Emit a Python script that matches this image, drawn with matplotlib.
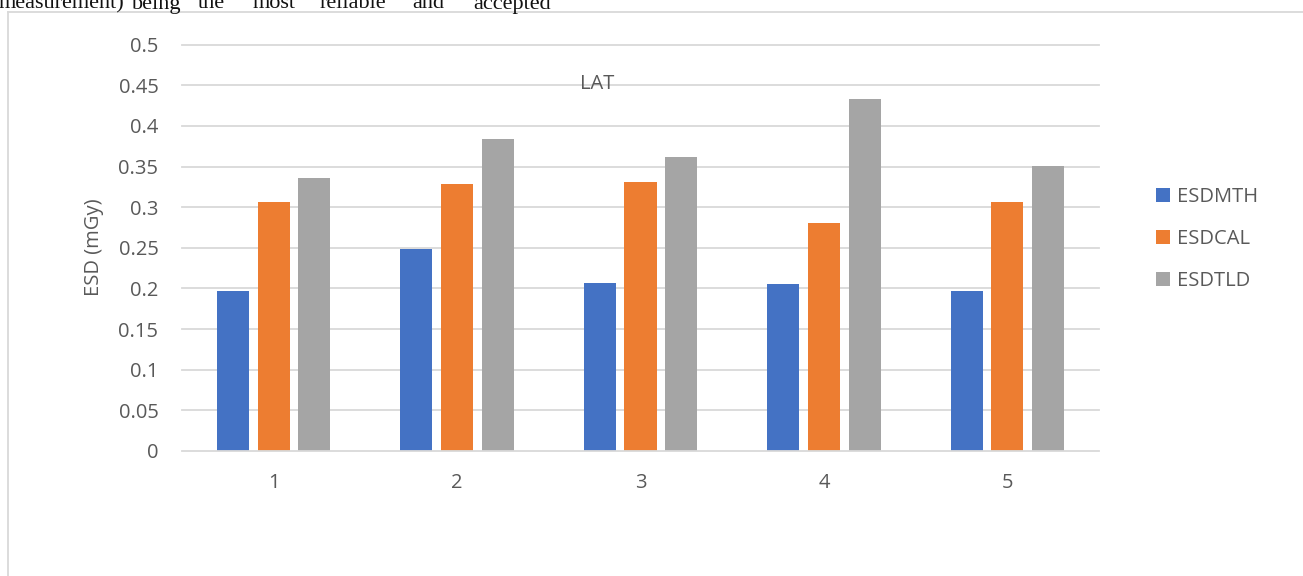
import matplotlib
matplotlib.use("Agg")
import matplotlib.pyplot as plt
from matplotlib.lines import Line2D
import numpy as np

# Data
categories = ["1", "2", "3", "4", "5"]
esd_mth = [0.197, 0.249, 0.207, 0.205, 0.197]
esd_cal = [0.306, 0.329, 0.331, 0.281, 0.306]
esd_tld = [0.336, 0.384, 0.362, 0.433, 0.351]
series_names = ["ESDMTH", "ESDCAL", "ESDTLD"]
y_ticks = [0, 0.05, 0.1, 0.15, 0.2, 0.25, 0.3, 0.35, 0.4, 0.45, 0.5]
y_tick_labels = ["0", "0.05", "0.1", "0.15", "0.2", "0.25", "0.3", "0.35", "0.4", "0.45", "0.5"]
body_words = ["measurement)", "being", "the", "most", "reliable", "and", "accepted"]
body_word_x = [-1, 132, 198, 253, 320, 412, 473]

colors = ["#4472C4", "#ED7D31", "#A5A5A5"]
text_color = "#595959"
grid_color = "#D9D9D9"
fs = 14.5

W, H = 1303, 576
fig = plt.figure(figsize=(W / 100, H / 100), dpi=100)
plt.rcParams["font.family"] = ["Open Sans", "DejaVu Sans"]

# Line of running document text above the chart frame
for word, xp in zip(body_words, body_word_x):
    fig.text(xp / W, 1 - 8.5 / H, word, ha="left", va="baseline",
             fontsize=16, family=["Liberation Serif", "DejaVu Serif"], color="#111111")

# Chart frame (top and left edges)
fig.add_artist(Line2D([8 / W, 1.0], [1 - 11.5 / H, 1 - 11.5 / H], color=grid_color, lw=1.3))
fig.add_artist(Line2D([8 / W, 8 / W], [0, 1 - 11.5 / H], color=grid_color, lw=1.3))

left, right = 182 / W, 1099 / W
bottom, top = 1 - 451 / H, 1 - 44.7 / H
ax = fig.add_axes([left, bottom, right - left, top - bottom])

x = np.arange(1, len(categories) + 1)
width = 0.1745
step = 0.222
for i, (vals, name) in enumerate(zip([esd_mth, esd_cal, esd_tld], series_names)):
    ax.bar(x + (i - 1) * step, vals, width=width, color=colors[i], label=name, zorder=3)

ax.set_xlim(0.5, len(categories) + 0.5)
ax.set_ylim(0, 0.5)
ax.set_yticks(y_ticks)
ax.set_yticklabels(y_tick_labels)
ax.set_xticks(x)
ax.set_xticklabels(categories)
ax.tick_params(axis="both", length=0, labelsize=fs, labelcolor=text_color)
ax.tick_params(axis="y", pad=17)
ax.tick_params(axis="x", pad=16)

for s in ["top", "right", "left"]:
    ax.spines[s].set_visible(False)
ax.spines["bottom"].set_color(grid_color)
ax.spines["bottom"].set_linewidth(1.3)
ax.spines["bottom"].set_zorder(4)

for yv in y_ticks[1:]:
    ax.axhline(yv, color=grid_color, lw=1.3, zorder=1, clip_on=False)

ax.set_ylabel("ESD (mGy)", fontsize=fs, color=text_color, va="center")
ax.yaxis.set_label_coords((94 - 182) / 917, (451 - 247) / 406.3)

ax.text((597 - 182) / 917, (451 - 84) / 406.3, "LAT", transform=ax.transAxes,
        ha="center", va="center", fontsize=fs, color=text_color, zorder=5)

leg = fig.legend(loc="center left", bbox_to_anchor=(1156 / W, 1 - 239 / H),
                 frameon=False, fontsize=fs, handlelength=0.7, handleheight=0.7,
                 handletextpad=0.35, labelspacing=1.09, borderpad=0, borderaxespad=0)
for t in leg.get_texts():
    t.set_color(text_color)

fig.savefig("out.png", dpi=100, facecolor="white")
